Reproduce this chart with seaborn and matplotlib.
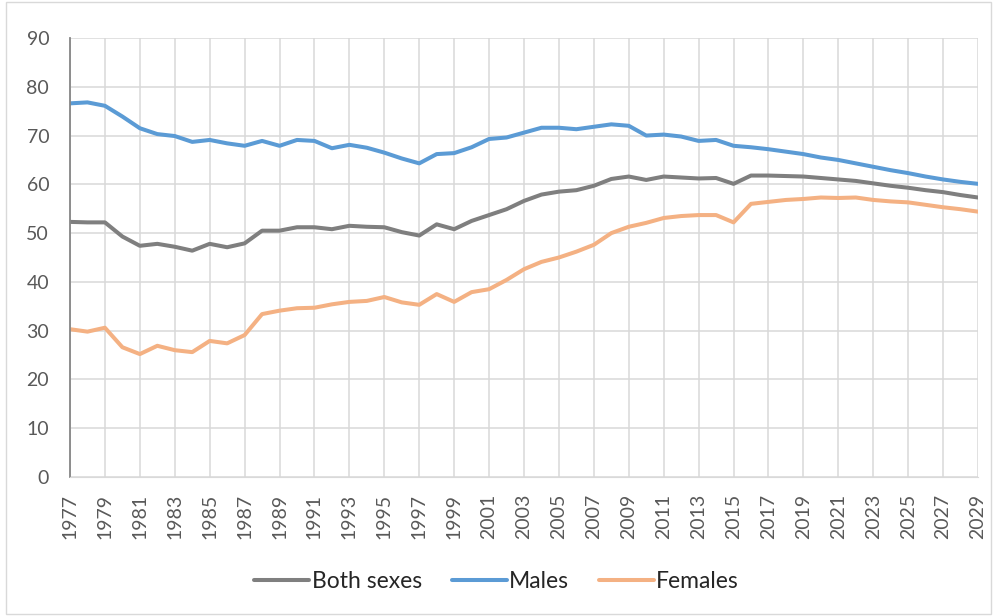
import numpy as np
import pandas as pd
import matplotlib
matplotlib.use("Agg")
import matplotlib.pyplot as plt
from matplotlib.patches import Rectangle
import seaborn as sns

years = list(range(1977, 2030))

both_sexes = [52.3, 52.2, 52.2, 49.3, 47.4, 47.8, 47.2, 46.4, 47.8, 47.1,
              47.9, 50.5, 50.5, 51.2, 51.2, 50.8, 51.5, 51.3, 51.2, 50.2,
              49.5, 51.8, 50.8, 52.5, 53.7, 54.9, 56.6, 57.9, 58.5, 58.8,
              59.7, 61.1, 61.6, 60.9, 61.6, 61.4, 61.2, 61.3, 60.1, 61.8,
              61.8, 61.7, 61.6, 61.3, 61.0, 60.7, 60.2, 59.7, 59.3, 58.8,
              58.4, 57.8, 57.3]

males = [76.6, 76.8, 76.1, 73.9, 71.5, 70.3, 69.9, 68.7, 69.1, 68.4,
         67.9, 68.9, 67.9, 69.1, 68.9, 67.4, 68.1, 67.5, 66.5, 65.3,
         64.3, 66.2, 66.4, 67.6, 69.3, 69.6, 70.6, 71.6, 71.6, 71.3,
         71.8, 72.3, 72.0, 70.0, 70.2, 69.8, 68.9, 69.1, 67.9, 67.6,
         67.2, 66.7, 66.2, 65.5, 65.0, 64.3, 63.6, 62.9, 62.3, 61.6,
         61.0, 60.5, 60.1]

females = [30.3, 29.8, 30.6, 26.6, 25.2, 26.9, 26.0, 25.6, 27.9, 27.4,
           29.1, 33.4, 34.1, 34.6, 34.7, 35.4, 35.9, 36.1, 36.9, 35.8,
           35.3, 37.5, 35.9, 37.9, 38.5, 40.4, 42.6, 44.1, 45.0, 46.2,
           47.6, 50.0, 51.3, 52.1, 53.1, 53.5, 53.7, 53.7, 52.2, 56.0,
           56.4, 56.8, 57.0, 57.3, 57.2, 57.3, 56.8, 56.5, 56.3, 55.8,
           55.3, 54.9, 54.4]

series_names = ["Both sexes", "Males", "Females"]
colors = ["#7F7F7F", "#5B9BD5", "#F4B183"]

df = pd.DataFrame({
    "year": years * 3,
    "value": both_sexes + males + females,
    "series": sum([[n] * len(years) for n in series_names], []),
})

sns.set_style("white")
plt.rcParams['font.family'] = ['Lato', 'DejaVu Sans']

fig = plt.figure(figsize=(9.93, 6.16), dpi=100)
ax = fig.add_axes([70 / 993, 139 / 616, 908 / 993, 439 / 616])

sns.lineplot(data=df, x="year", y="value", hue="series",
             hue_order=series_names, palette=dict(zip(series_names, colors)),
             linewidth=2.9, ax=ax, legend=True)

ax.set_xlim(1977, 2029)
ax.set_ylim(0, 90)
ax.set_xticks(range(1977, 2030, 2))
ax.set_xticklabels([str(y) for y in range(1977, 2030, 2)], rotation=90)
ax.set_yticks(range(0, 91, 10))
ax.tick_params(axis='both', labelsize=14, colors='#595959', length=0)
ax.tick_params(axis='y', pad=15)
ax.tick_params(axis='x', pad=12)
ax.set_xlabel("")
ax.set_ylabel("")
ax.grid(True, color='#D9D9D9', linewidth=1.1)
ax.set_axisbelow(True)

for side in ['top', 'right']:
    ax.spines[side].set_visible(False)
ax.spines['bottom'].set_color('#D9D9D9')
ax.spines['left'].set_color('#868686')
ax.spines['left'].set_linewidth(1.3)

handles, labels = ax.get_legend_handles_labels()
ax.get_legend().remove()
fig.legend(handles, labels, loc='center', bbox_to_anchor=(0.5, 34 / 616),
           ncol=3, frameon=False, fontsize=16.5, handlelength=2.4,
           columnspacing=1.3, handletextpad=0.1)

fig.patches.append(Rectangle((6 / 993, 2 / 616), 985 / 993, 612 / 616,
                             transform=fig.transFigure, fill=False,
                             edgecolor='#D9D9D9', linewidth=1))

fig.savefig("out.png", dpi=100)
